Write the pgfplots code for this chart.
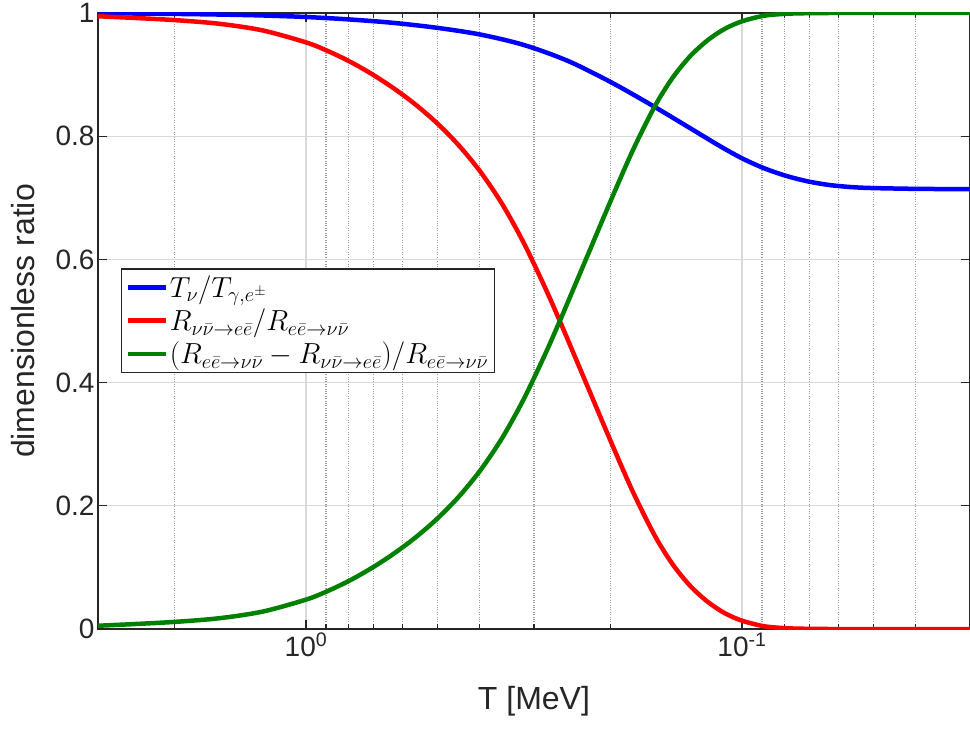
\RequirePackage{fix-cm}
\documentclass[border=0pt]{standalone}
\usepackage{pgfplots}
\pgfplotsset{compat=1.18}
\usepackage{fontspec}
\setmainfont{Liberation Sans}
\definecolor{mblue}{RGB}{0,0,255}
\definecolor{mred}{RGB}{255,0,0}
\definecolor{mgreen}{RGB}{0,128,0}
\begin{document}
\begin{tikzpicture}
\useasboundingbox (-98pt,-100pt) rectangle (872pt,629pt);
\begin{axis}[
  at={(0pt,0pt)}, anchor=south west,
  scale only axis, width=872pt, height=616pt,
  xmode=log, x dir=reverse,
  xmin=0.03, xmax=3, ymin=0, ymax=1,
  xtick={0.1,1}, xticklabels={10\textsuperscript{-1},10\textsuperscript{0}},
  minor xtick={0.03,0.04,0.05,0.06,0.07,0.08,0.09,0.2,0.3,0.4,0.5,0.6,0.7,0.8,0.9,2,3},
  ytick={0,0.2,0.4,0.6,0.8,1}, yticklabels={0,0.2,0.4,0.6,0.8,1},
  /pgf/number format/assume math mode=true,
  tick align=inside, major tick length=9pt, minor tick length=5pt,
  xmajorgrids, xminorgrids, ymajorgrids,
  major grid style={black!15, line width=1.2pt},
  minor grid style={black!40, dotted, line width=1.3pt},
  axis line style={black!85, line width=1.2pt},
  every tick/.style={black!85, line width=1.2pt},
  tick label style={font=\fontsize{28}{34}\selectfont, text=black!85},
  label style={font=\fontsize{32}{38}\selectfont, text=black!85},
  xlabel={T [MeV]}, ylabel={dimensionless ratio},
  xlabel style={at={(axis description cs:0.5,-0.13)}, anchor=base},
  ylabel style={at={(axis description cs:-0.0723,0.5)}, anchor=base},
  legend style={at={(0.026,0.586)}, anchor=north west, draw=black!85, line width=1.5pt,
    fill=white, font=\fontsize{29}{33}\selectfont, row sep=6pt, inner xsep=4pt, inner ysep=5pt},
  legend cell align=left,
  legend image code/.code={\draw[#1] (0pt,0pt) -- (38pt,0pt);},
]
\addplot[mblue, line width=4.5pt, smooth, tension=0.5] coordinates {
(3.0,0.9996) (2.5119,0.9992) (1.9953,0.9985) (1.5849,0.9975) (1.2589,0.9960)
(1.0,0.9935) (0.7943,0.9895) (0.6310,0.9840) (0.5012,0.9760) (0.3981,0.9650)
(0.3162,0.9480) (0.2512,0.9224) (0.1995,0.8874) (0.1585,0.8474) (0.1259,0.8049)
(0.1122,0.7836) (0.1,0.7641) (0.0891,0.7481) (0.0794,0.7358) (0.0708,0.7268)
(0.0631,0.7208) (0.0562,0.7174) (0.0501,0.7158) (0.0398,0.7145) (0.0316,0.7141)
(0.03,0.7140)};
\addlegendentry{$T_\nu/T_{\gamma,e^\pm}$}
\addplot[mred, line width=4.5pt, smooth, tension=0.5] coordinates {
(3.0,0.9947) (2.5119,0.9922) (1.9953,0.9884) (1.5849,0.9826) (1.2589,0.9718)
(1.0,0.9523) (0.8913,0.9383) (0.7943,0.9213) (0.7079,0.9013) (0.6310,0.8783)
(0.5623,0.8520) (0.5012,0.8215) (0.4467,0.7855) (0.3981,0.7422) (0.3548,0.6897)
(0.3162,0.6259) (0.2818,0.5514) (0.2618,0.5000) (0.2512,0.4703) (0.2239,0.3866)
(0.1995,0.3026) (0.1778,0.2221) (0.1585,0.1514) (0.1445,0.1058) (0.1318,0.0708)
(0.1202,0.0448) (0.1096,0.0258) (0.1,0.0135) (0.0891,0.0045) (0.0794,0.0013)
(0.0708,0.0003) (0.0631,0.0) (0.05,0.0) (0.04,0.0) (0.03,0.0)};
\addlegendentry{$R_{\nu\bar\nu\rightarrow e\bar e}/R_{e\bar e\rightarrow\nu\bar\nu}$}
\addplot[mgreen, line width=4.5pt, smooth, tension=0.5] coordinates {
(3.0,0.0053) (2.5119,0.0078) (1.9953,0.0116) (1.5849,0.0174) (1.2589,0.0282)
(1.0,0.0477) (0.8913,0.0617) (0.7943,0.0787) (0.7079,0.0987) (0.6310,0.1217)
(0.5623,0.1480) (0.5012,0.1785) (0.4467,0.2145) (0.3981,0.2578) (0.3548,0.3103)
(0.3162,0.3741) (0.2818,0.4486) (0.2618,0.5000) (0.2512,0.5297) (0.2239,0.6134)
(0.1995,0.6974) (0.1778,0.7779) (0.1585,0.8486) (0.1445,0.8942) (0.1318,0.9292)
(0.1202,0.9552) (0.1096,0.9742) (0.1,0.9865) (0.0891,0.9955) (0.0794,0.9987)
(0.0708,0.9997) (0.0631,1.0) (0.05,1.0) (0.04,1.0) (0.03,1.0)};
\addlegendentry{$(R_{e\bar e\rightarrow\nu\bar\nu}-R_{\nu\bar\nu\rightarrow e\bar e})/R_{e\bar e\rightarrow\nu\bar\nu}$}
\end{axis}
\end{tikzpicture}
\end{document}
